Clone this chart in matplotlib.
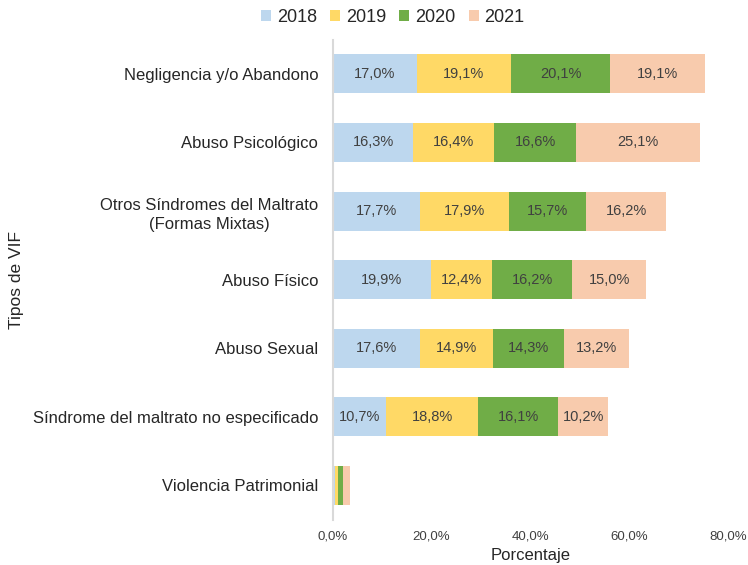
import matplotlib
matplotlib.use("Agg")
import matplotlib.pyplot as plt
from matplotlib.ticker import FuncFormatter

plt.rcParams['font.family'] = ['Liberation Sans', 'DejaVu Sans']

categories = [
    "Negligencia y/o Abandono",
    "Abuso Psicológico",
    "Otros Síndromes del Maltrato\n(Formas Mixtas)",
    "Abuso Físico",
    "Abuso Sexual",
    "Síndrome del maltrato no especificado",
    "Violencia Patrimonial",
]
years = ["2018", "2019", "2020", "2021"]
v2018 = [17.0, 16.3, 17.7, 19.9, 17.6, 10.7, 0.5]
v2019 = [19.1, 16.4, 17.9, 12.4, 14.9, 18.8, 0.5]
v2020 = [20.1, 16.6, 15.7, 16.2, 14.3, 16.1, 1.1]
v2021 = [19.1, 25.1, 16.2, 15.0, 13.2, 10.2, 1.3]
series = [v2018, v2019, v2020, v2021]
colors = ["#BDD7EE", "#FFD966", "#70AD47", "#F8CBAD"]
text_color = "#404040"
label_color = "#262626"

fig = plt.figure(figsize=(7.48, 5.65), dpi=100)
ax = fig.add_axes([0.445, 0.080, 0.528, 0.850])

y = list(range(len(categories)))
left = [0.0] * len(categories)
for name, vals, col in zip(years, series, colors):
    ax.barh(y, vals, left=left, height=0.57, color=col, label=name)
    for yi, (l, v) in enumerate(zip(left, vals)):
        if v >= 5:
            ax.text(l + v / 2, yi, f"{v:.1f}%".replace(".", ","),
                    ha="center", va="center", fontsize=10.5, color=text_color)
    left = [l + v for l, v in zip(left, vals)]

ax.set_ylim(len(categories) - 0.5, -0.5)
ax.set_xlim(0, 80)
ax.set_xticks([0, 20, 40, 60, 80])
ax.xaxis.set_major_formatter(FuncFormatter(lambda x, p: f"{x:.1f}%".replace(".", ",")))
ax.set_yticks(y)
ax.set_yticklabels(categories, fontsize=12, color=label_color,
                   multialignment="center", linespacing=1.35)
ax.tick_params(axis="y", length=0, pad=10.5)
ax.tick_params(axis="x", length=0, labelsize=9.5, colors=text_color, pad=8)

for s in ["top", "right", "bottom"]:
    ax.spines[s].set_visible(False)
ax.spines["left"].set_color("#D9D9D9")
ax.spines["left"].set_linewidth(1.5)

ax.set_xlabel("Porcentaje", fontsize=12, color=label_color, labelpad=4)
fig.text(0.022, 0.504, "Tipos de VIF", rotation=90, ha="center", va="center",
         fontsize=12.5, color=label_color)

fig.legend(loc="upper center", bbox_to_anchor=(0.525, 1.013), ncol=4, frameon=False,
           fontsize=13, handlelength=0.55, handleheight=0.55, handletextpad=0.3,
           columnspacing=0.75, labelcolor=label_color)

fig.savefig("out.png", dpi=100)
